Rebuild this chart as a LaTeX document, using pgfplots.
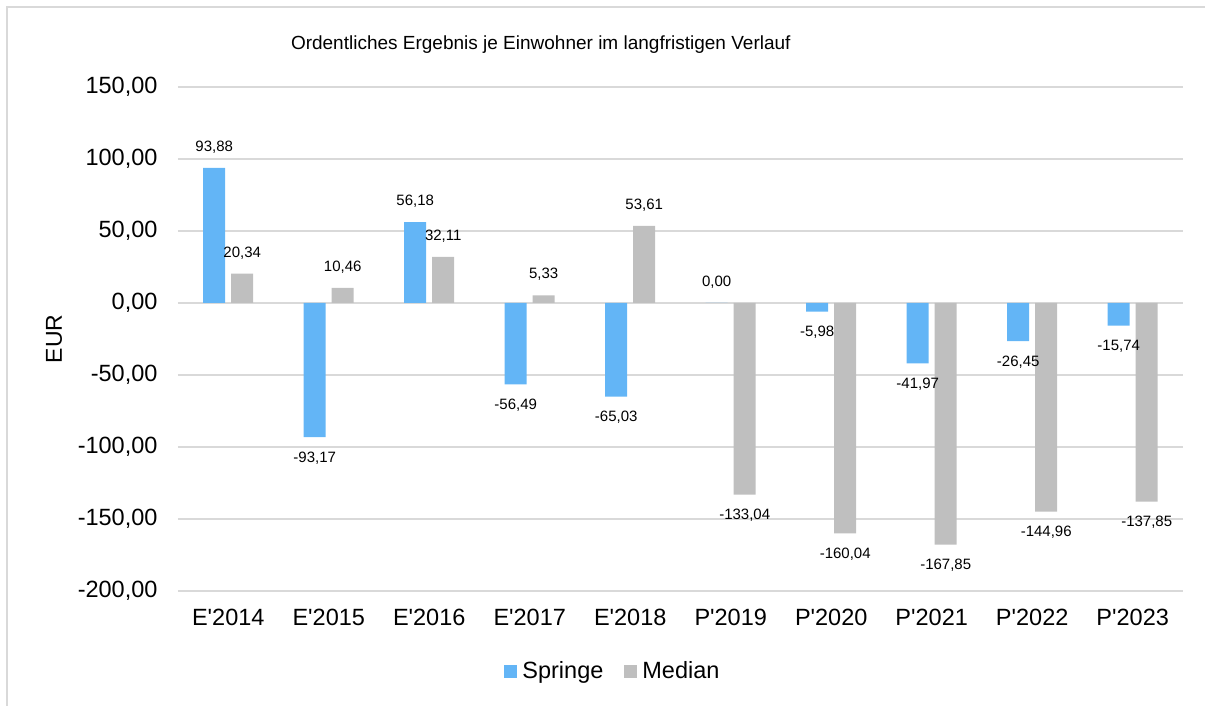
\documentclass[border=0pt]{standalone}
\usepackage{pgfplots}
\pgfplotsset{compat=1.18}
\usepackage{fontspec}
\setmainfont{Liberation Sans}
\definecolor{springe}{HTML}{63B5F6}
\definecolor{median}{HTML}{BFBFBF}
\definecolor{gridc}{HTML}{D9D9D9}
\begin{document}
\begin{tikzpicture}
\useasboundingbox (0pt,0pt) rectangle (1205pt,706pt);
\draw[gridc, line width=1.5pt] (7pt,0pt) -- (7pt,699pt) -- (1206pt,699pt);
\begin{axis}[
  at={(178pt,115pt)}, anchor=south west,
  width=1005pt, height=504pt, scale only axis,
  ybar=6pt, bar width=22pt,
  xmin=-0.5, xmax=9.5, ymin=-200, ymax=150,
  ytick={-200,-150,...,150},
  xtick={0,...,9},
  xticklabels={E\textquotesingle 2014,E\textquotesingle 2015,E\textquotesingle 2016,E\textquotesingle 2017,E\textquotesingle 2018,P\textquotesingle 2019,P\textquotesingle 2020,P\textquotesingle 2021,P\textquotesingle 2022,P\textquotesingle 2023},
  ymajorgrids, grid style={gridc, line width=1.5pt},
  axis line style={draw=none},
  major tick length=0pt,
  clip=false,
  /pgf/number format/fixed,
  /pgf/number format/fixed zerofill,
  /pgf/number format/precision=2,
  /pgf/number format/use comma,
  /pgf/number format/1000 sep={},
  /pgf/number format/assume math mode=true,
  tick label style={font=\fontsize{23.5}{28}\selectfont},
  xticklabel style={yshift=-15pt},
  yticklabel style={xshift=-17pt},
  ylabel={EUR},
  ylabel style={at={(axis description cs:-0.1234,0.5)}, anchor=center, font=\fontsize{23}{28}\selectfont},
  title={Ordentliches Ergebnis je Einwohner im langfristigen Verlauf},
  title style={at={(axis description cs:0.361,1.073)}, anchor=center, font=\fontsize{19}{23}\selectfont},
  nodes near coords,
  nodes near coords style={font=\fontsize{15}{18}\selectfont, inner ysep=14.5pt, text=black},
  legend columns=2,
  legend style={at={(axis description cs:0.4328,-0.159)}, anchor=center, draw=none,
    font=\fontsize{23.5}{28}\selectfont,
    /tikz/every odd column/.append style={column sep=3pt},
    /tikz/every even column/.append style={column sep=19pt}},
  legend image code/.code={\fill[#1] (0pt,-6.5pt) rectangle (13pt,6.5pt);},
]
\addplot[fill=springe, draw=none] coordinates {(0,93.88) (1,-93.17) (2,56.18) (3,-56.49) (4,-65.03) (5,0) (6,-5.98) (7,-41.97) (8,-26.45) (9,-15.74)};
\addlegendentry{Springe}
\addplot[fill=median, draw=none] coordinates {(0,20.34) (1,10.46) (2,32.11) (3,5.33) (4,53.61) (5,-133.04) (6,-160.04) (7,-167.85) (8,-144.96) (9,-137.85)};
\addlegendentry{Median}
\end{axis}
\end{tikzpicture}
\end{document}
